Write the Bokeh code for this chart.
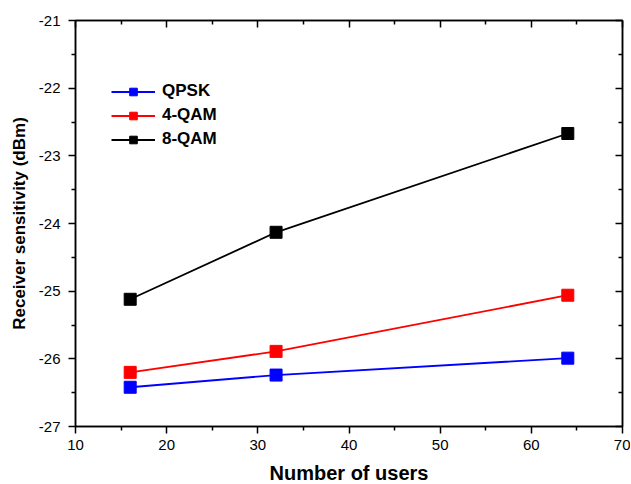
from bokeh.plotting import figure
from bokeh.models import LinearAxis, Range1d, Legend, LegendItem, FixedTicker, CustomJSTickFormatter
from bokeh.embed import file_html
from bokeh.resources import INLINE

users = [16, 32, 64]
qpsk = [-26.42, -26.24, -25.99]
qam4 = [-26.20, -25.89, -25.06]
qam8 = [-25.12, -24.13, -22.67]
series_names = ["QPSK", "4-QAM", "8-QAM"]
x_ticks = [10, 20, 30, 40, 50, 60, 70]
y_ticks = [-27, -26, -25, -24, -23, -22, -21]

FONT = "Liberation Sans"

p = figure(frame_width=547, frame_height=406, output_backend="svg", toolbar_location=None,
           x_range=Range1d(10, 70), y_range=Range1d(-27, -21),
           min_border_left=75, min_border_right=8, min_border_top=20, min_border_bottom=57)
p.grid.visible = False
p.outline_line_color = "black"
p.outline_line_width = 1.5
p.background_fill_color = "white"
p.border_fill_color = "white"

def style_axis(ax, ticks, labels=True, inward=False):
    ax.ticker = FixedTicker(ticks=ticks, minor_ticks=[t + (ticks[1]-ticks[0]) / 2 for t in ticks[:-1]])
    ax.axis_line_width = 1.5
    ax.major_tick_line_width = 1.5
    ax.minor_tick_line_width = 1.5
    if inward:
        ax.major_tick_in = 7
        ax.major_tick_out = 0
        ax.minor_tick_in = 4
        ax.minor_tick_out = 0
    else:
        ax.major_tick_in = 0
        ax.major_tick_out = 7
        ax.minor_tick_in = 0
        ax.minor_tick_out = 4
    if labels:
        ax.formatter = CustomJSTickFormatter(code="return String(tick);")
        ax.major_label_text_font = FONT
        ax.major_label_text_font_size = "15px"
        ax.major_label_text_color = "black"
        ax.major_label_standoff = 6
        ax.axis_label_text_font = FONT
        ax.axis_label_text_font_size = "17px"
        ax.axis_label_text_font_style = "bold"
        ax.axis_label_text_color = "black"
        ax.axis_label_standoff = 7
    else:
        ax.formatter = CustomJSTickFormatter(code="return '';")
        ax.major_label_text_font_size = "0px"
        ax.major_label_standoff = 0
        ax.axis_label_standoff = 0

style_axis(p.xaxis[0], x_ticks)
style_axis(p.yaxis[0], y_ticks)
p.xaxis[0].axis_label = "Number of users"
p.xaxis[0].axis_label_text_font_size = "20px"
p.xaxis[0].axis_label_standoff = 9
p.yaxis[0].axis_label = "Receiver sensitivity (dBm)"
p.yaxis[0].major_label_standoff = 8

top = LinearAxis()
style_axis(top, x_ticks, labels=False, inward=True)
p.add_layout(top, "above")
right = LinearAxis()
style_axis(right, y_ticks, labels=False, inward=True)
p.add_layout(right, "right")

colors = ["#0000ff", "#ff0000", "#000000"]
items = []
for name, ys, c in zip(series_names, [qpsk, qam4, qam8], colors):
    l = p.line(users, ys, line_color=c, line_width=1.8)
    s = p.scatter(users, ys, marker="square", size=12, fill_color=c, line_color=c)
    items.append(LegendItem(label=name, renderers=[l, s]))

legend = Legend(items=items, location=(36, 277))
legend.border_line_color = None
legend.background_fill_alpha = 0
legend.label_text_font = FONT
legend.label_text_font_size = "17px"
legend.label_text_font_style = "bold"
legend.label_text_color = "black"
legend.glyph_width = 44
legend.glyph_height = 19
legend.spacing = 4
legend.padding = 5
legend.margin = 0
legend.label_standoff = 7
p.add_layout(legend, "center")

open("out.html", "w").write(file_html(p, INLINE))
